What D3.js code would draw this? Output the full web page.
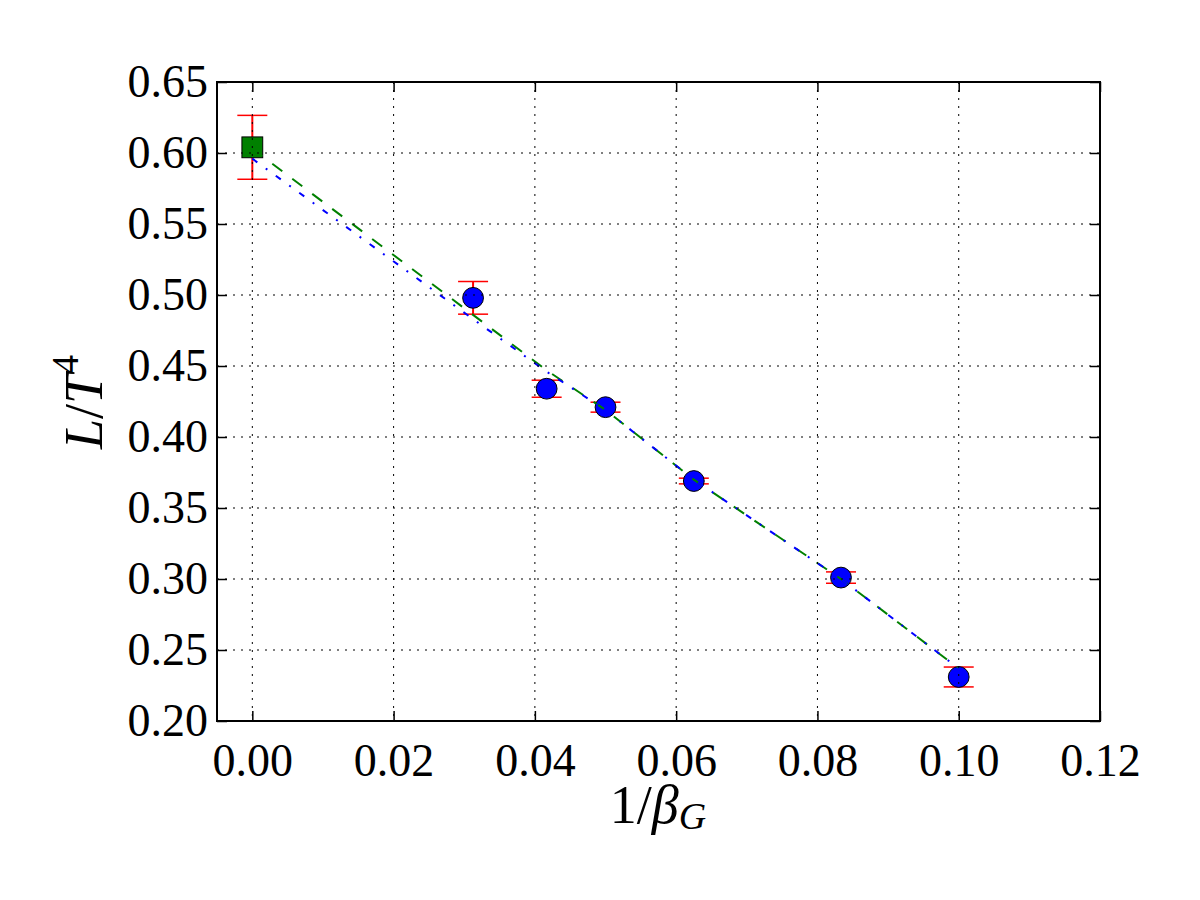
<!DOCTYPE html>
<html>
<head>
<meta charset="utf-8">
<script src="https://d3js.org/d3.v7.min.js"></script>
<style>
  body { margin: 0; background: #fff; }
  svg text { font-family: "Liberation Serif", "DejaVu Serif", serif; }
</style>
</head>
<body>
<div id="chart"></div>
<script>
// data
const betaInv = [1 / 32, 1 / 24, 0.05, 0.0625, 1 / 12, 0.1];
const latent = [0.498, 0.434, 0.421, 0.369, 0.301, 0.231];
const latentErr = [0.0115, 0.006, 0.0035, 0.002, 0.004, 0.007];

const contX = [0];
const contY = [0.604];
const contErr = [0.0225];

// two fits to the points
const fitX = [0, 1 / 32, 1 / 24, 0.05, 0.0625, 1 / 12, 0.1];
const fitGreen = [0.603, 0.486, 0.447, 0.419, 0.370, 0.300, 0.237];
const fitBlue = [0.596, 0.483, 0.446, 0.419, 0.370, 0.300, 0.237];

const xTicks = [0.0, 0.02, 0.04, 0.06, 0.08, 0.1, 0.12];
const yTicks = [0.2, 0.25, 0.3, 0.35, 0.4, 0.45, 0.5, 0.55, 0.6, 0.65];

const W = 1200, H = 900;
const pLeft = 217, pRight = 1100, pTop = 82, pBottom = 721;

const svg = d3.select("#chart").append("svg")
  .attr("width", W).attr("height", H);

const x = d3.scaleLinear().domain([-0.005, 0.12]).range([pLeft, pRight]);
const y = d3.scaleLinear().domain([0.2, 0.65]).range([pBottom, pTop]);

const fmt = d3.format(".2f");

// error bars
function errorBars(xs, ys, es) {
  const g = svg.append("g");
  xs.forEach((xv, i) => {
    const cx = x(xv), y1 = y(ys[i] + es[i]), y2 = y(ys[i] - es[i]);
    g.append("line").attr("x1", cx).attr("x2", cx).attr("y1", y1).attr("y2", y2)
      .attr("stroke", "#ff0000").attr("stroke-width", 2);
    [y1, y2].forEach(yy => {
      g.append("line").attr("x1", cx - 15).attr("x2", cx + 15).attr("y1", yy).attr("y2", yy)
        .attr("stroke", "#ff0000").attr("stroke-width", 1.5);
    });
  });
}
errorBars(betaInv, latent, latentErr);
errorBars(contX, contY, contErr);

// markers
svg.append("g").selectAll("circle").data(betaInv).join("circle")
  .attr("cx", d => x(d))
  .attr("cy", (d, i) => y(latent[i]))
  .attr("r", 10.4)
  .attr("fill", "#0000ff")
  .attr("stroke", "#000").attr("stroke-width", 1);

svg.append("g").selectAll("rect").data(contX).join("rect")
  .attr("x", d => x(d) - 10.4)
  .attr("y", (d, i) => y(contY[i]) - 10.4)
  .attr("width", 20.8).attr("height", 20.8)
  .attr("fill", "#008000")
  .attr("stroke", "#000").attr("stroke-width", 1);

// fit lines
const line = d3.line().x(d => x(d[0])).y(d => y(d[1]));
svg.append("path")
  .attr("d", line(fitX.map((v, i) => [v, fitGreen[i]])))
  .attr("fill", "none").attr("stroke", "#008000").attr("stroke-width", 2)
  .attr("stroke-dasharray", "12.5,12.5");
svg.append("path")
  .attr("d", line(fitX.map((v, i) => [v, fitBlue[i]])))
  .attr("fill", "none").attr("stroke", "#0000ff").attr("stroke-width", 2)
  .attr("stroke-dasharray", "6.2,10.4,2,10.4");

// grid on top
const grid = svg.append("g").attr("stroke", "#000").attr("stroke-width", 1)
  .attr("stroke-dasharray", "2,6");
xTicks.forEach(t => grid.append("line")
  .attr("x1", x(t)).attr("x2", x(t)).attr("y1", pTop).attr("y2", pBottom));
yTicks.forEach(t => grid.append("line")
  .attr("x1", pLeft).attr("x2", pRight).attr("y1", y(t)).attr("y2", y(t)));

// axes, ticks inward on all sides
svg.append("g").attr("transform", `translate(0,${pBottom})`)
  .call(d3.axisBottom(x).tickValues(xTicks).tickFormat(fmt).tickSize(-10).tickPadding(22));
svg.append("g").attr("transform", `translate(0,${pTop})`)
  .call(d3.axisTop(x).tickValues(xTicks).tickFormat("").tickSize(-10));
svg.append("g").attr("transform", `translate(${pLeft},0)`)
  .call(d3.axisLeft(y).tickValues(yTicks).tickFormat(fmt).tickSize(-10).tickPadding(9));
svg.append("g").attr("transform", `translate(${pRight},0)`)
  .call(d3.axisRight(y).tickValues(yTicks).tickFormat("").tickSize(-10));

svg.selectAll(".domain").remove();
svg.selectAll(".tick line").attr("stroke", "#000").attr("stroke-width", 1.5);
svg.selectAll(".tick text").attr("font-family", "Liberation Serif, serif")
  .attr("font-size", 46).attr("fill", "#000");

svg.append("rect")
  .attr("x", pLeft).attr("y", pTop)
  .attr("width", pRight - pLeft).attr("height", pBottom - pTop)
  .attr("fill", "none").attr("stroke", "#000").attr("stroke-width", 2);

// axis labels
const xl = svg.append("text")
  .attr("x", 658).attr("y", 823)
  .attr("text-anchor", "middle").attr("font-size", 54).attr("fill", "#000");
xl.append("tspan").text("1/");
xl.append("tspan").attr("font-style", "italic").text("β");
xl.append("tspan").attr("font-style", "italic").attr("font-size", 38).attr("dy", 6).text("G");

const yl = svg.append("text")
  .attr("transform", `translate(102,402) rotate(-90)`)
  .attr("text-anchor", "middle").attr("font-size", 54).attr("fill", "#000");
yl.append("tspan").attr("font-style", "italic").text("L");
yl.append("tspan").text("/");
yl.append("tspan").attr("font-style", "italic").text("T");
yl.append("tspan").attr("font-size", 38).attr("dy", -24).text("4");
</script>
</body>
</html>
